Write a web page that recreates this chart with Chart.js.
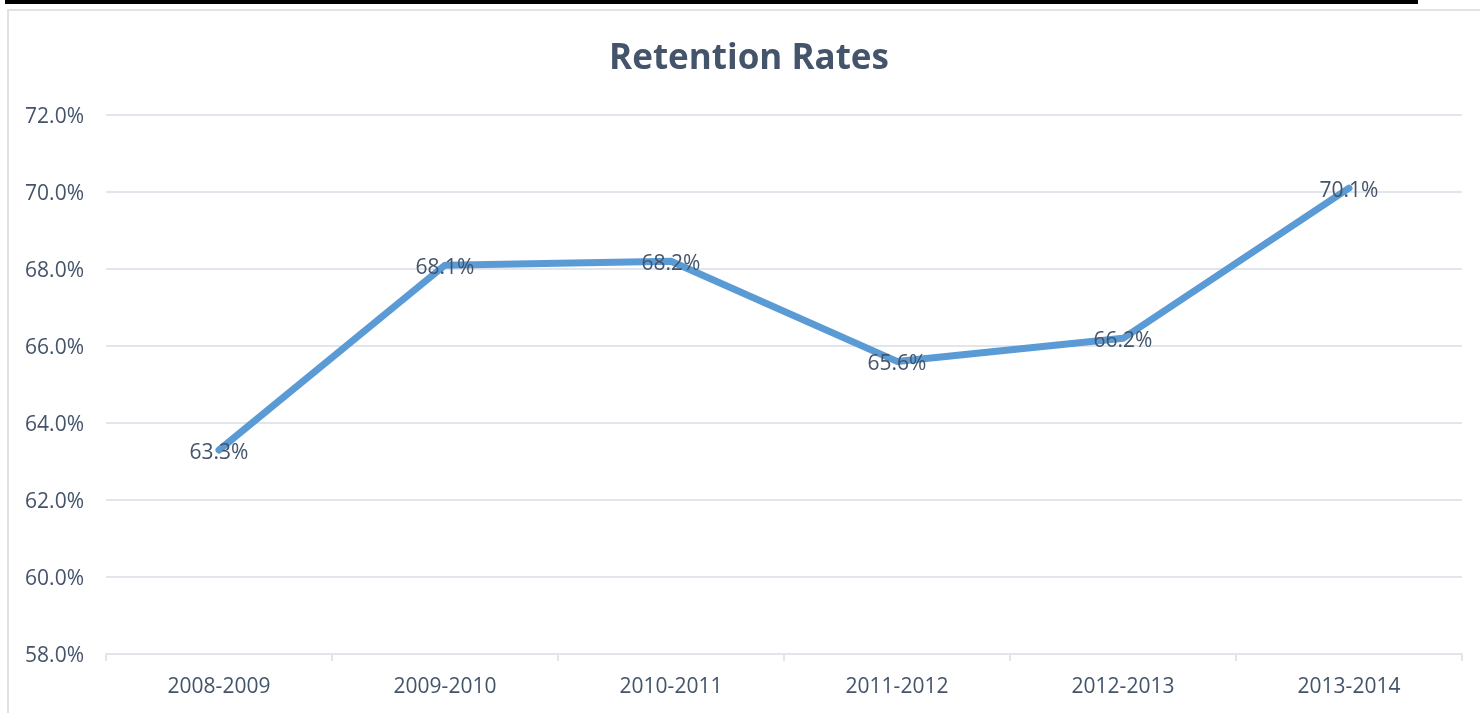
<!DOCTYPE html>
<html>
<head>
<meta charset="utf-8">
<script src="https://cdn.jsdelivr.net/npm/chart.js@4.4.1/dist/chart.umd.min.js"></script>
<style>
  html, body { margin: 0; padding: 0; background: #ffffff; }
  #wrap { position: relative; width: 1480px; height: 713px; overflow: hidden; }
  #topbar { position: absolute; left: 5px; top: 0; width: 1413px; height: 4px; background: #000; }
  #frame { position: absolute; left: 7px; top: 9px; width: 1500px; height: 720px;
           border-left: 2px solid #dfe3e8; border-top: 2px solid #dfe3e8; box-sizing: border-box; }
  canvas { position: absolute; left: 0; top: 0; }
</style>
</head>
<body>
<div id="wrap">
  <div id="topbar"></div>
  <div id="frame"></div>
  <canvas id="c" width="1480" height="713"></canvas>
</div>
<script>
const categories = ["2008-2009", "2009-2010", "2010-2011", "2011-2012", "2012-2013", "2013-2014"];
const retention = [63.3, 68.1, 68.2, 65.6, 66.2, 70.1];
const yMin = 58, yMax = 72, yStep = 2;
const titleText = "Retention Rates";

const textColor = "#44546a";
const gridColor = "#e2e5eb";
const fontFamily = "'Open Sans', 'Noto Sans', sans-serif";

const labelPlugin = {
  id: "pointLabels",
  afterDatasetsDraw(chart) {
    const ctx = chart.ctx;
    const meta = chart.getDatasetMeta(0);
    ctx.save();
    ctx.font = "21px " + fontFamily;
    ctx.fillStyle = textColor;
    ctx.textAlign = "center";
    ctx.textBaseline = "middle";
    meta.data.forEach((pt, i) => {
      ctx.fillText(retention[i].toFixed(1) + "%", pt.x, pt.y + 3);
    });
    ctx.restore();
  }
};

const titlePlugin = {
  id: "ownTitle",
  afterDraw(chart) {
    const ctx = chart.ctx;
    ctx.save();
    ctx.font = "bold 35px " + fontFamily;
    ctx.fillStyle = textColor;
    ctx.textAlign = "center";
    ctx.textBaseline = "middle";
    ctx.fillText(titleText, 749, 59);
    ctx.restore();
  }
};

new Chart(document.getElementById("c"), {
  type: "line",
  data: {
    labels: categories,
    datasets: [{
      data: retention,
      borderColor: "#5b9bd5",
      borderWidth: 7,
      pointRadius: 0,
      tension: 0,
      borderCapStyle: "round",
      borderJoinStyle: "round",
      fill: false
    }]
  },
  options: {
    responsive: false,
    animation: false,
    layout: { padding: { left: 0, right: 18, top: 115, bottom: 0 } },
    plugins: {
      legend: { display: false },
      tooltip: { enabled: false },
      title: { display: false }
    },
    scales: {
      x: {
        offset: true,
        grid: { offset: true, drawOnChartArea: false, drawTicks: true, tickLength: 7, color: gridColor, lineWidth: 2 },
        border: { display: true, color: gridColor, width: 2 },
        ticks: { color: textColor, font: { family: fontFamily, size: 21 }, padding: 13, maxRotation: 0 },
        afterFit(scale) { scale.height = 59; }
      },
      y: {
        min: yMin, max: yMax,
        grid: { color: gridColor, lineWidth: 2, drawTicks: false },
        border: { display: false },
        ticks: {
          stepSize: yStep,
          color: textColor,
          font: { family: fontFamily, size: 21 },
          padding: 22,
          labelOffset: 2,
          callback: v => v.toFixed(1) + "%"
        },
        afterFit(scale) { scale.width = 106; }
      }
    }
  },
  plugins: [labelPlugin, titlePlugin]
});
</script>
</body>
</html>
